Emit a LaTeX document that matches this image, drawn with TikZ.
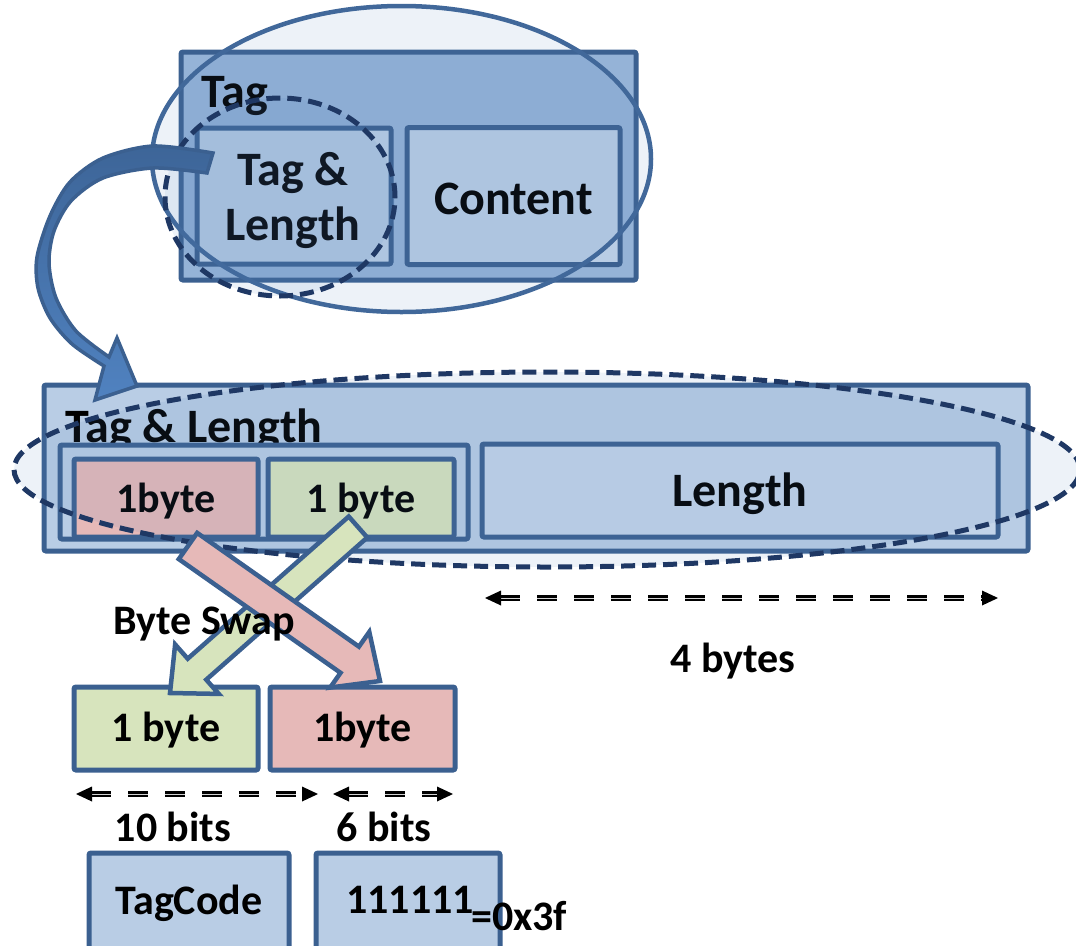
\documentclass[tikz,border=0pt]{standalone}
\usepackage{fontspec}
\setmainfont{Carlito}
\usetikzlibrary{calc,shapes.geometric}
\definecolor{bord}{HTML}{3B6090}
\definecolor{ellc}{HTML}{41689A}
\definecolor{lbA}{HTML}{95B3D7}
\definecolor{lbB}{HTML}{B9CDE5}
\definecolor{lenc}{HTML}{C3D4E9}
\definecolor{acc}{HTML}{4F81BD}
\definecolor{dk}{HTML}{1F3864}
\definecolor{pinkc}{HTML}{E6B9B8}
\definecolor{greenc}{HTML}{D7E4BD}
\definecolor{arrtop}{HTML}{3D6598}
\definecolor{arrbot}{HTML}{5082C0}
\tikzset{
  box/.style={draw=bord, line width=5pt, rounded corners=2pt, inner sep=0pt},
  bigtxt/.style={font=\fontsize{48}{55}\selectfont\bfseries},
  smalltxt/.style={font=\fontsize{42}{50}\selectfont\bfseries},
  overlay ell/.style={ellipse, inner sep=0pt, fill=acc, fill opacity=0.1},
  dashring/.style={overlay ell, draw=dk, line width=5pt, dash pattern=on 14pt off 7pt},
  solidring/.style={overlay ell, draw=ellc, line width=4.5pt},
  swapstyle/.style={draw=bord, line width=4.5pt, line join=miter},
  dimline/.style={draw=black, double=gray!35, line width=2.2pt, double distance=1pt, dash pattern=on 20pt off 17pt},
}
\newcommand\swaparrow[6]{%
  \coordinate (hb) at ($(#3)!#6!(#2)$);
  \filldraw[#1] ($(#2)!#4!90:(#3)$) -- ($(hb)!#4!-90:(#2)$) -- ($(hb)!#5!-90:(#2)$) -- (#3)
    -- ($(hb)!#5!90:(#2)$) -- ($(hb)!#4!90:(#2)$) -- ($(#2)!#4!-90:(#3)$) -- cycle;}
\newcommand\dimarrow[2]{%
  \draw[dimline] ($(#1)+(15,0)$) -- ($(#2)+(-15,0)$);
  \fill (#1) -- ($(#1)+(16,-7.5)$) -- ($(#1)+(16,7.5)$) -- cycle;
  \fill (#2) -- ($(#2)+(-16,-7.5)$) -- ($(#2)+(-16,7.5)$) -- cycle;}
\begin{document}
\begin{tikzpicture}[x=1pt,y=-1pt]
\useasboundingbox (0,0) rectangle (1076,945);
% ---------- top block ----------
\node[box, fill=lbA, minimum width=455, minimum height=228] (tagbox) at (408.5,166) {};
\node[bigtxt, anchor=base west, inner sep=0pt] (taglbl) at (201,107) {Tag};
\node[box, fill=lbB, minimum width=194, minimum height=136, align=center] (tlbox) at (294,196) {};
\node[bigtxt, align=center, inner sep=0pt] (tltext) at (293,200) {Tag \&\\Length};
\node[box, fill=lbB, minimum width=213, minimum height=137] (content) at (513.5,196) {};
\node[bigtxt, inner sep=0pt] (contenttext) at (513.5,199) {Content};
\node[solidring, minimum width=499, minimum height=306] (topell) at (401.5,159) {};
\node[dashring, minimum width=230, minimum height=198] (topring) at (280,197) {};
% ---------- middle block ----------
\node[box, fill=lbB, minimum width=984, minimum height=166] (tlrow) at (536,468) {};
\node[bigtxt, anchor=base west, inner sep=0pt] (tlrowlbl) at (65,442) {Tag \& Length};
\node[box, fill=lbB, minimum width=408, minimum height=94] (pair) at (264,492) {};
\node[box, fill=pinkc, minimum width=184, minimum height=78] (b1) at (166,498) {};
\node[smalltxt, inner sep=0pt] (b1t) at (166,501) {1byte};
\node[box, fill=greenc, minimum width=186, minimum height=78] (b2) at (361,498) {};
\node[smalltxt, inner sep=0pt] (b2t) at (361,501) {1 byte};
\node[box, fill=lenc, minimum width=516, minimum height=93] (len) at (740,490.5) {};
\node[bigtxt, inner sep=0pt] (lent) at (740,494) {Length};
\node[dashring, minimum width=1066, minimum height=195] (midring) at (547,469.5) {};
% ---------- curved arrow ----------
\path[draw=bord, line width=3.5pt, top color=arrtop, bottom color=arrbot]
  plot[smooth] coordinates {(213,153) (153,146) (103,158) (70,182) (50,216) (37,257) (38,288) (50,318) (72,344) (104,366)}
  -- (95,400) -- (137,386) -- (117,338) -- (109,357)
  -- plot[smooth] coordinates {(109,357) (76,331) (56,298) (49,263) (54,231) (71,201) (103,178) (153,168) (207,173)}
  -- cycle;
% ---------- bottom boxes ----------
\node[box, fill=greenc, minimum width=184, minimum height=83] (c1) at (166,728.5) {};
\node[smalltxt, inner sep=0pt] (c1t) at (166,730) {1 byte};
\node[box, fill=pinkc, minimum width=185, minimum height=83] (c2) at (362.5,728.5) {};
\node[smalltxt, inner sep=0pt] (c2t) at (362.5,730) {1byte};
\node[box, fill=lbB, minimum width=200, minimum height=96] (tc) at (189,901) {};
\node[smalltxt, anchor=base, inner sep=0pt] (tctext) at (189,914) {TagCode};
\node[box, fill=lbB, minimum width=184, minimum height=96] (ones) at (408,901) {};
\node[smalltxt, anchor=base west, inner sep=0pt] (onestext) at (346,913) {111111};
\node[smalltxt, anchor=base west, inner sep=0pt] (hex) at (471,930) {=0x3f};
% ---------- byte swap arrows ----------
\coordinate (gT) at (358,527);
\coordinate (gP) at (170,693);
\coordinate (pT) at (188,546);
\coordinate (pP) at (380,681);
\swaparrow{swapstyle, fill=greenc}{gT}{gP}{14pt}{33pt}{36pt}
\swaparrow{swapstyle, fill=pinkc}{pT}{pP}{16pt}{34pt}{37pt}
\node[smalltxt, inner sep=0pt] (swaplbl) at (204,624) {Byte Swap};
% ---------- dimension arrows ----------
\coordinate (d4a) at (485,598);
\coordinate (d4b) at (998,598);
\dimarrow{d4a}{d4b}
\node[smalltxt, inner sep=0pt] (fourb) at (733,661) {4 bytes};
\coordinate (d10a) at (76,794);
\coordinate (d10b) at (318,794);
\dimarrow{d10a}{d10b}
\coordinate (d6a) at (333,794);
\coordinate (d6b) at (453,794);
\dimarrow{d6a}{d6b}
\node[smalltxt, inner sep=0pt] (tenb) at (173,827) {10 bits};
\node[smalltxt, inner sep=0pt] (sixb) at (384,827) {6 bits};
\end{tikzpicture}
\end{document}
